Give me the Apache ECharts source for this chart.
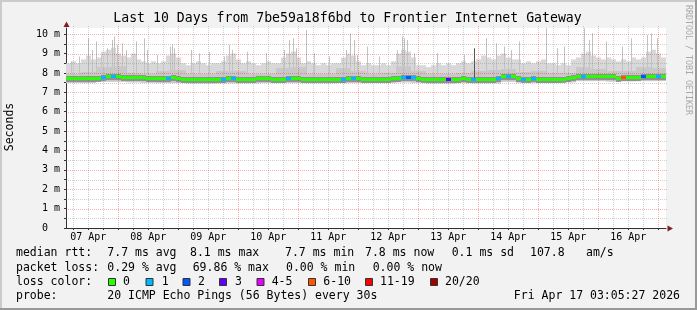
<!DOCTYPE html>
<html><head><meta charset="utf-8">
<script src="https://cdn.jsdelivr.net/npm/echarts@6/dist/echarts.min.js"></script>
<style>html,body{margin:0;padding:0;background:#f2f2f2}#c{width:697px;height:310px}</style>
</head><body><div id="c"></div><script>
// time axis in hours since 07 Apr 00:00
const startHour = 3.08, endHour = 243.08;
const binHours = 2;      // median / loss / smokeMax bins
const wideBinHours = 6;  // smokeMid / smokeLow bins

const dayLabels = ['07 Apr','08 Apr','09 Apr','10 Apr','11 Apr','12 Apr','13 Apr','14 Apr','15 Apr','16 Apr'];
const labelHours = [12,36,60,84,108,132,156,180,204,228];
const dayHours = [24,48,72,96,120,144,168,192,216,240];
const yMajor = [1,2,3,4,5,6,7,8,9,10];
const yMinor = [0.5,1.5,2.5,3.5,4.5,5.5,6.5,7.5,8.5,9.5];

// light smoke top (ms), 2h bins
const smokeMax = [
 8.5,8.6,8.5,8.7,8.9,8.7,8.8,9.1,9.2,9.3,
 9.0,8.9,8.8,9.0,8.7,8.6,8.5,8.6,8.5,8.6,
 8.9,9.0,8.8,8.5,8.4,8.5,8.6,8.5,8.4,8.5,
 8.5,8.6,8.9,9.0,8.7,8.5,8.6,8.5,8.4,8.5,
 8.6,8.5,8.5,8.8,9.0,9.1,8.8,8.5,8.6,8.5,
 8.4,8.5,8.4,8.5,8.5,8.8,9.0,8.9,8.6,8.4,
 8.5,8.4,8.4,8.5,8.4,8.6,9.0,9.2,9.1,8.8,
 8.4,8.4,8.3,8.4,8.5,8.4,8.5,8.4,8.5,8.6,
 8.5,8.6,8.7,8.9,8.8,8.7,8.9,9.0,8.8,8.7,
 8.7,8.5,8.6,8.5,8.6,8.7,8.5,8.5,8.4,8.5,
 8.4,8.7,8.8,9.0,9.1,8.9,8.8,8.7,8.8,8.7,
 8.6,8.7,8.6,8.8,8.7,8.8,9.1,9.2,9.0,8.8
];
// median rtt (ms), 2h bins
const median = [
 7.73,7.72,7.74,7.73,7.75,7.74,7.76,7.80,7.83,7.84,
 7.82,7.80,7.79,7.80,7.81,7.80,7.76,7.73,7.73,7.74,
 7.75,7.77,7.74,7.69,7.68,7.69,7.68,7.68,7.69,7.68,
 7.70,7.71,7.73,7.74,7.71,7.70,7.70,7.69,7.73,7.75,
 7.73,7.70,7.69,7.71,7.73,7.74,7.72,7.70,7.69,7.69,
 7.70,7.69,7.70,7.70,7.69,7.71,7.73,7.74,7.72,7.70,
 7.71,7.71,7.70,7.71,7.70,7.72,7.76,7.79,7.80,7.78,
 7.72,7.67,7.67,7.68,7.67,7.68,7.70,7.71,7.71,7.72,
 7.71,7.70,7.68,7.67,7.68,7.67,7.75,7.83,7.84,7.83,
 7.72,7.70,7.71,7.72,7.71,7.70,7.71,7.70,7.71,7.70,
 7.72,7.80,7.83,7.84,7.85,7.83,7.82,7.83,7.82,7.83,
 7.76,7.80,7.81,7.80,7.81,7.83,7.84,7.86,7.83,7.84
];
// lost pings (of 20), 2h bins
const loss = [
 0,0,0,0,0,0,0,1,0,1,
 0,0,0,0,0,0,0,0,0,0,
 1,0,0,0,0,0,0,0,0,0,
 0,1,0,1,0,0,0,0,0,0,
 0,0,0,0,1,0,0,0,0,0,
 0,0,0,0,0,1,0,1,0,0,
 0,0,0,0,0,0,0,1,2,1,
 0,0,0,0,0,0,3,0,0,0,
 0,1,0,0,0,0,1,0,1,0,
 0,1,0,1,0,0,0,0,0,0,
 0,0,0,1,0,0,0,0,0,0,
 0,6,0,0,0,2,0,0,1,0
];
// denser smoke top and smoke bottom (ms), 6h bins
const smokeMid = [
 7.95,8.05,8.30,8.35,8.00,7.95,8.10,8.15,7.95,7.95,
 8.10,8.10,7.95,7.95,8.25,8.30,7.95,7.95,8.25,8.10,
 7.95,8.00,8.35,8.10,7.95,7.95,8.00,8.10,8.15,8.20,
 8.05,8.10,8.00,8.00,8.30,8.20,8.10,8.10,8.30,8.25
];
const smokeLow = [
 7.48,7.48,7.55,7.55,7.52,7.50,7.48,7.48,7.46,7.46,
 7.47,7.47,7.47,7.48,7.48,7.48,7.47,7.47,7.48,7.48,
 7.48,7.48,7.52,7.50,7.46,7.46,7.48,7.47,7.47,7.55,
 7.50,7.48,7.48,7.52,7.58,7.58,7.56,7.57,7.58,7.58
];
// single tall pings
const spikeHours = [5.0,8.3,11.9,13.6,15.2,17.0,19.4,21.4,22.3,23.6,25.6,27.0,31.0,34.3,35.6,39.6,44.7,45.6,46.3,53.0,56.3,60.3,66.3,68.3,69.6,75.6,83.0,90.3,92.3,94.0,95.0,99.0,102.3,108.3,115.0,116.7,118.3,119.6,123.6,128.3,135.6,137.6,138.3,139.6,142.3,151.6,162.3,171.0,175.0,178.3,181.0,184.3,195.0,199.6,202.3,210.3,212.3,213.6,219.0,225.6,229.0,235.6,237.0,239.6];
const spikeTops = [8.59,8.85,9.79,9.19,9.62,8.93,9.28,9.70,9.88,9.45,9.53,9.19,9.62,9.79,9.19,8.93,9.36,9.45,9.28,9.19,9.02,9.10,8.85,9.45,9.19,9.10,9.02,9.19,9.70,9.79,9.28,10.22,9.02,8.85,9.19,10.05,9.70,8.93,9.36,8.85,9.19,9.88,9.79,9.70,9.02,9.02,8.93,9.79,9.53,9.36,9.19,9.62,10.31,9.28,9.36,10.31,9.70,10.05,9.62,9.36,9.79,9.96,10.05,9.79];
const darkSpikeHours = [166.3];
const darkSpikeTops = [9.28];

const lossLabels = ['0','1','2','3','4-5','6-10','11-19','20/20'];
const lossColors = ['#26ff00','#00b8ff','#0059ff','#6000ff','#e600ff','#ff5500','#ff0000','#a00000'];
const lossFloor = [0,1,2,3,4,6,11,20];
const rttStats = ['7.7 ms avg','8.1 ms max','7.7 ms min','7.8 ms now','0.1 ms sd','107.8','am/s'];
const lossStats = ['0.29 % avg','69.86 % max','0.00 % min','0.00 % now'];
const titleText = 'Last 10 Days from 7be59a18f6bd to Frontier Internet Gateway';
const probeText = '20 ICMP Echo Pings (56 Bytes) every 30s';
const dateText = 'Fri Apr 17 03:05:27 2026';

function lossColor(n){ let c = lossColors[0]; for (let k=0;k<lossFloor.length;k++) if (n>=lossFloor[k]) c = lossColors[k]; return c; }

const minorHours = [];
for (let h = 6; h < endHour; h += 6) if (h % 24 !== 0 && h > startHour) minorHours.push(h);

const lightData = smokeMax.map((v,i)=>[startHour+i*binHours, startHour+(i+1)*binHours, smokeLow[Math.floor(i*binHours/wideBinHours)], v]);
const midData = smokeMid.map((v,j)=>[startHour+j*wideBinHours, startHour+(j+1)*wideBinHours, smokeLow[j], v]);
const medData = median.map((v,i)=>[startHour+i*binHours, startHour+(i+1)*binHours, v, loss[i]]);
const binOf = h => Math.min(median.length-1, Math.max(0, Math.floor((h-startHour)/binHours)));
const spikeData = spikeHours.map((h,i)=>[h, median[binOf(h)], spikeTops[i]]);
const darkSpikeData = darkSpikeHours.map((h,i)=>[h, median[binOf(h)], darkSpikeTops[i]]);

function bandSeries(data, color, z){
  return {type:'custom', coordinateSystem:'cartesian2d', z, silent:true, clip:true,
    encode:{x:[0,1], y:[2,3]}, data,
    renderItem(params, api){
      const p0 = api.coord([api.value(0), api.value(3)]);
      const p1 = api.coord([api.value(1), api.value(2)]);
      const r = echarts.graphic.clipRectByRect({x:p0[0], y:p0[1], width:p1[0]-p0[0], height:p1[1]-p0[1]}, params.coordSys);
      return r ? {type:'rect', shape:r, style:{fill:color}} : null;
    }};
}
function spikeSeries(data, color, z){
  return {type:'custom', coordinateSystem:'cartesian2d', z, silent:true, clip:true,
    encode:{x:0, y:[1,2]}, data,
    renderItem(params, api){
      const p0 = api.coord([api.value(0), api.value(2)]);
      const p1 = api.coord([api.value(0), api.value(1)]);
      const x = Math.round(p0[0]);
      return {type:'rect', shape:{x:x, y:p0[1], width:1, height:p1[1]-p0[1]}, style:{fill:color}};
    }};
}
function vGrid(hours, color, z){
  return {type:'custom', coordinateSystem:'cartesian2d', z, silent:true, clip:false,
    encode:{x:0, y:1}, data: hours.map(h=>[h,0]),
    renderItem(params, api){
      const cs = params.coordSys;
      const x = Math.round(api.coord([api.value(0), 0])[0]) + 0.5;
      return {type:'line', shape:{x1:x, y1:cs.y-2, x2:x, y2:cs.y+cs.height}, style:{stroke:color, lineWidth:1, lineDash:[1,1]}};
    }};
}
function hGrid(vals, color, z){
  return {type:'custom', coordinateSystem:'cartesian2d', z, silent:true, clip:false,
    encode:{x:0, y:1}, data: vals.map(v=>[startHour,v]),
    renderItem(params, api){
      const cs = params.coordSys;
      const y = Math.round(api.coord([startHour, api.value(1)])[1]) + 0.5;
      return {type:'line', shape:{x1:cs.x, y1:y, x2:cs.x+cs.width+2, y2:y}, style:{stroke:color, lineWidth:1, lineDash:[1,1]}};
    }};
}

const mono = '"DejaVu Sans Mono", monospace';
const graphics = [];
function txt(x, y, text, size, opts){
  graphics.push(Object.assign({type:'text', x, y, silent:true, z:100,
    style:Object.assign({text, font: size+'px '+mono, fill:'#000', align:'left', verticalAlign:'middle', textAlign:'left', textVerticalAlign:'middle'}, opts||{})}));
}
// frame
graphics.push({type:'rect', silent:true, z:99, shape:{x:0,y:0,width:697,height:2}, style:{fill:'#cbcbcb'}});
graphics.push({type:'rect', silent:true, z:99, shape:{x:0,y:0,width:2,height:310}, style:{fill:'#cbcbcb'}});
graphics.push({type:'rect', silent:true, z:99, shape:{x:0,y:308,width:697,height:2}, style:{fill:'#999999'}});
graphics.push({type:'rect', silent:true, z:99, shape:{x:695,y:0,width:2,height:310}, style:{fill:'#999999'}});
// arrows
graphics.push({type:'polygon', silent:true, z:100, shape:{points:[[66.5,21.5],[63.5,27],[69.5,27]]}, style:{fill:'#7f1f1f'}});
graphics.push({type:'polygon', silent:true, z:100, shape:{points:[[673,228.5],[667.5,225.5],[667.5,231.5]]}, style:{fill:'#7f1f1f'}});
// titles
txt(347.5, 19, titleText, 13.2, {align:'center', textAlign:'center'});
graphics.push({type:'text', x:10.5, y:127, rotation:Math.PI/2, silent:true, z:100,
  style:{text:'Seconds', font:'11.5px '+mono, fill:'#000', align:'center', verticalAlign:'middle', textAlign:'center', textVerticalAlign:'middle'}});
graphics.push({type:'text', x:688, y:60, rotation:-Math.PI/2, silent:true, z:100,
  style:{text:'RRDTOOL / TOBI OETIKER', font:'8.3px '+mono, fill:'#a8a8a8', align:'center', verticalAlign:'middle', textAlign:'center', textVerticalAlign:'middle'}});
// legend lines
const L = 11.5;
txt(16, 253.5, 'median rtt:', L);
[107.3,190,285,365,451.7,530,586].forEach((x,i)=>txt(x, 253.5, rttStats[i], L));
txt(16, 268, 'packet loss:', L);
[107.3,192.7,286,372.7].forEach((x,i)=>txt(x, 268, lossStats[i], L));
txt(16, 282, 'loss color:', L);
const swX = [108.5,146,183,219.5,257,308.5,365.5,430.5];
const swTx = [123,161.7,198,235,271.7,323.3,380,445];
lossLabels.forEach((s,i)=>{
  graphics.push({type:'rect', silent:true, z:100, shape:{x:swX[i], y:278.5, width:7, height:7}, style:{fill:lossColors[i], stroke:'#333', lineWidth:1}});
  txt(swTx[i], 282, s, L);
});
txt(16, 296.5, 'probe:', L);
txt(107.3, 296.5, probeText, L);
txt(680, 296.5, dateText, L, {align:'right', textAlign:'right'});

const chart = echarts.init(document.getElementById('c'), null, {renderer:'canvas'});
chart.setOption({
  backgroundColor:'#f2f2f2',
  animation:false,
  grid:{left:66, right:31, top:28, bottom:82, show:true, backgroundColor:'#ffffff', borderWidth:0},
  xAxis:{type:'value', min:startHour, max:endHour,
    axisLine:{show:true, lineStyle:{color:'#333', width:1}},
    axisTick:{show:true, length:2, customValues: minorHours.concat(dayHours), lineStyle:{color:'#333'}},
    axisLabel:{show:true, customValues: labelHours, formatter:(v)=>dayLabels[labelHours.indexOf(v)] || '', margin:4,
      fontFamily:'DejaVu Sans Mono', fontSize:10, color:'#000'},
    splitLine:{show:false}},
  yAxis:{type:'value', min:0, max:10.32, interval:0.5,
    axisLine:{show:true, lineStyle:{color:'#333', width:1}},
    axisTick:{show:true, length:2, lineStyle:{color:'#333'}},
    axisLabel:{margin:6, fontFamily:'DejaVu Sans Mono', fontSize:10, color:'#000', showMaxLabel:false,
      formatter:(v)=> (Math.abs(v-Math.round(v))>1e-6 || v>10.01) ? '' : (v===0 ? '0  ' : Math.round(v)+' m')},
    splitLine:{show:false}},
  series:[
    bandSeries(lightData, '#d8d8d8', 2),
    spikeSeries(spikeData, '#c2c2c2', 3),
    bandSeries(midData, '#c8c8c8', 4),
    spikeSeries(darkSpikeData, '#555555', 5),
    hGrid(yMinor, 'rgba(128,128,128,0.38)', 6),
    hGrid(yMajor, 'rgba(235,0,0,0.3)', 7),
    vGrid(minorHours, 'rgba(128,128,128,0.38)', 6),
    vGrid(dayHours, 'rgba(235,0,0,0.3)', 7),
    {type:'custom', coordinateSystem:'cartesian2d', z:9, silent:true, clip:true,
      encode:{x:[0,1], y:2}, data: medData,
      renderItem(params, api){
        const p0 = api.coord([api.value(0), api.value(2)]);
        const p1 = api.coord([api.value(1), api.value(2)]);
        const cs = params.coordSys;
        const x0 = Math.max(cs.x, p0[0]), x1 = Math.min(cs.x+cs.width, p1[0]);
        const y = Math.round(p0[1]);
        return {type:'group', children:[
          {type:'rect', shape:{x:x0, y:y-2, width:x1-x0, height:6}, style:{fill:'rgba(90,90,90,0.5)'}},
          {type:'rect', shape:{x:x0, y:y-1, width:x1-x0, height:3}, style:{fill:lossColor(api.value(3))}}
        ]};
      }}
  ],
  graphic: graphics
});
</script></body></html>
